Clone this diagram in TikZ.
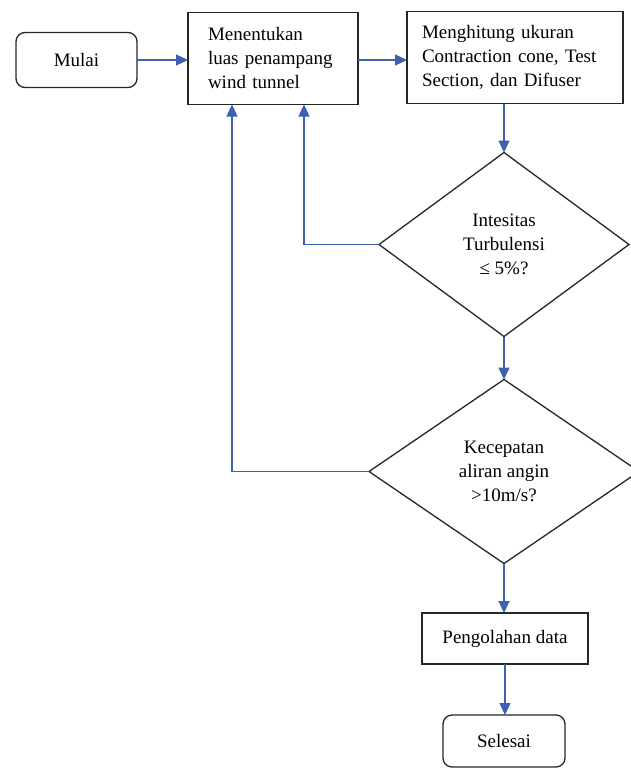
\documentclass[tikz,border=0pt]{standalone}
\usepackage{fontspec}
\setmainfont{Liberation Serif}
\usetikzlibrary{shapes.geometric,arrows.meta,calc}
\definecolor{flowblue}{RGB}{62,96,178}

\begin{document}
\begin{tikzpicture}[x=1pt,y=-1pt,
    font=\fontsize{19}{24}\selectfont,
    box/.style={draw=black!85,line width=1.3pt,inner sep=0pt,outer sep=0pt},
    term/.style={box,rounded corners=9pt,minimum width=121pt,minimum height=55pt},
    proc/.style={box,align=left,minimum height=92pt},
    decision/.style={box,diamond,align=center,minimum height=184pt},
    flow/.style={draw=flowblue,line width=1.2pt,-{Triangle[length=12pt,width=11pt]}}]
    \useasboundingbox (0,0) rectangle (631,768);
    % Coordinates
    \coordinate (M) at (76.5,60);
    \coordinate (L) at (273,58.5);
    \coordinate (U) at (515,57.5);
    \coordinate (T) at (504,244.5);
    \coordinate (K) at (504,471.5);
    \coordinate (P) at (505,638.5);
    \coordinate (S) at (504,741);
    % Nodes
    \node[term] (mulai) at (M) {Mulai};
    \node[proc,text width=130pt,inner xsep=20pt] (luas) at (L)
        {Menentukan\\luas penampang\\wind tunnel};
    \node[proc,text width=186pt,inner xsep=15pt] (ukuran) at (U)
        {Menghitung ukuran\\Contraction cone, Test\\Section, dan Difuser};
    \node[decision,minimum width=250pt] (turb) at (T)
        {Intesitas\\Turbulensi\\≤ 5\%?};
    \node[decision,minimum width=270pt] (angin) at (K)
        {Kecepatan\\aliran angin\\>10m/s?};
    \node[box,minimum width=166pt,minimum height=51pt] (olah) at (P) {Pengolahan data};
    \node[term,minimum width=122pt,minimum height=52pt] (selesai) at (S) {Selesai};
    % Flow
    \draw[flow] (mulai.east) -- (mulai.east -| luas.west);
    \draw[flow] (luas.east |- mulai.east) -- (mulai.east -| ukuran.west);
    \draw[flow] (turb |- ukuran.south) -- (turb.north);
    \draw[flow] (turb.south) -- (angin.north);
    \draw[flow] (angin.south) -- (angin.south |- olah.north);
    \draw[flow] (olah.south) -- (olah.south |- selesai.north);
    % Feedback loops
    \draw[flow] (turb.west) -| ([xshift=31pt]luas.south);
    \draw[flow] (angin.west) -| ([xshift=-41pt]luas.south);
\end{tikzpicture}
\end{document}
